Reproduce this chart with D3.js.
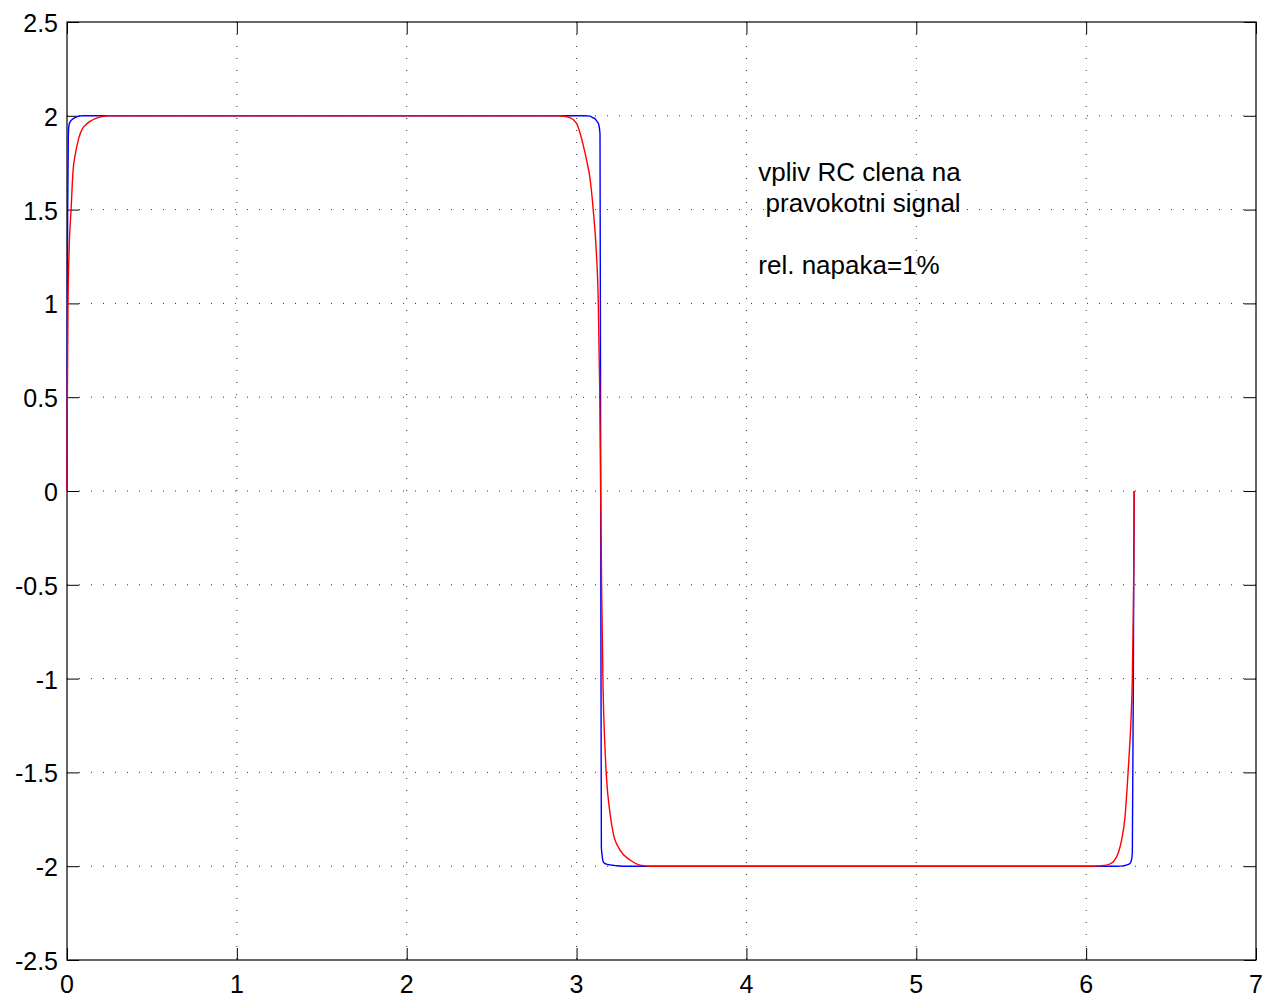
<!DOCTYPE html>
<html>
<head>
<meta charset="utf-8">
<script src="https://cdn.jsdelivr.net/npm/d3@7"></script>
<style>
  body { margin: 0; background: #fff; }
  svg { display: block; font-family: "Liberation Sans", Arial, Helvetica, sans-serif; }
</style>
</head>
<body>
<div id="chart-area"></div>
<script>
const MARGIN = { LEFT: 67, RIGHT: 14, TOP: 22, BOTTOM: 40 }
const WIDTH = 1270 - MARGIN.LEFT - MARGIN.RIGHT
const HEIGHT = 1000 - MARGIN.TOP - MARGIN.BOTTOM

// tick values
const xTicks = [0, 1, 2, 3, 4, 5, 6, 7]
const yTicks = [-2.5, -2, -1.5, -1, -0.5, 0, 0.5, 1, 1.5, 2, 2.5]

// blue curve
const blueX = [0, 0.001, 0.002, 0.004, 0.008, 0.012, 0.02, 0.03, 0.05, 0.09,
  3.05, 3.079, 3.095, 3.108, 3.12, 3.128, 3.135, 3.138, 3.142, 3.146, 3.149, 3.153, 3.157, 3.165, 3.18, 3.197, 3.23, 3.273,
  6.18, 6.219, 6.24, 6.258, 6.266, 6.272, 6.278, 6.28, 6.283]
const blueY = [0, 0.5, 1.0, 1.5, 1.9, 1.95, 1.97, 1.98, 1.992, 2.0,
  2.0, 1.998, 1.99, 1.985, 1.97, 1.96, 1.93, 1.9, 0, -1.9, -1.93, -1.96, -1.976, -1.985, -1.99, -1.993, -1.997, -2.0,
  -2.0, -1.998, -1.993, -1.985, -1.97, -1.93, -1.0, -0.5, 0]

// red curve
const redX = [0, 0.002, 0.006, 0.013, 0.024, 0.035, 0.05, 0.069, 0.09, 0.108, 0.135, 0.167, 0.2, 0.245,
  2.9, 2.961, 3.0, 3.02, 3.039, 3.06, 3.079, 3.098, 3.116, 3.128, 3.136, 3.142, 3.148, 3.156, 3.167, 3.177, 3.197, 3.216, 3.256, 3.315, 3.373, 3.432,
  6.023, 6.08, 6.121, 6.16, 6.189, 6.209, 6.229, 6.243, 6.255, 6.265, 6.272, 6.277, 6.281, 6.283]
const redY = [0, 0.5, 1.0, 1.3, 1.5, 1.7, 1.8, 1.88, 1.93, 1.95, 1.97, 1.985, 1.994, 2.0,
  2.0, 1.99, 1.96, 1.91, 1.844, 1.76, 1.667, 1.5, 1.28, 1.0, 0.55, 0, -0.55, -1.05, -1.363, -1.54, -1.718, -1.825, -1.914, -1.967, -1.994, -2.0,
  -2.0, -1.998, -1.994, -1.976, -1.93, -1.86, -1.736, -1.558, -1.38, -1.2, -1.0, -0.7, -0.35, 0]

// annotation
const noteLines = ["vpliv RC clena na", " pravokotni signal", "", "rel. napaka=1%"]
const noteX = 4.07
const noteY = 1.65

const svg = d3.select("#chart-area").append("svg")
  .attr("width", 1270)
  .attr("height", 1000)

svg.append("rect").attr("width", 1270).attr("height", 1000).attr("fill", "#fff")

const g = svg.append("g")
  .attr("transform", `translate(${MARGIN.LEFT}, ${MARGIN.TOP})`)

const x = d3.scaleLinear().domain([0, 7]).range([0, WIDTH])
const y = d3.scaleLinear().domain([-2.5, 2.5]).range([HEIGHT, 0])

// dotted grid
g.append("g").selectAll("line")
  .data(xTicks.slice(1, -1))
  .join("line")
  .attr("x1", d => x(d)).attr("x2", d => x(d))
  .attr("y1", 0).attr("y2", HEIGHT)
  .attr("stroke", "#333").attr("stroke-width", 1)
  .attr("stroke-dasharray", "1,11")

g.append("g").selectAll("line")
  .data(yTicks.slice(1, -1))
  .join("line")
  .attr("x1", 0).attr("x2", WIDTH)
  .attr("y1", d => y(d)).attr("y2", d => y(d))
  .attr("stroke", "#333").attr("stroke-width", 1)
  .attr("stroke-dasharray", "1,11")

// axes with inward ticks on all sides
const TICK = 12
const fmt = d => String(d).replace("−", "-")

const xAxis = g.append("g").attr("transform", `translate(0, ${HEIGHT})`)
  .call(d3.axisTop(x).tickValues(xTicks).tickSize(TICK).tickFormat(""))
const xTop = g.append("g")
  .call(d3.axisBottom(x).tickValues(xTicks).tickSize(TICK).tickFormat(""))
const yAxis = g.append("g")
  .call(d3.axisRight(y).tickValues(yTicks).tickSize(TICK).tickFormat(""))
const yRight = g.append("g").attr("transform", `translate(${WIDTH}, 0)`)
  .call(d3.axisLeft(y).tickValues(yTicks).tickSize(TICK).tickFormat(""))

;[xAxis, xTop, yAxis, yRight].forEach(a => {
  a.select(".domain").remove()
  a.selectAll("line").attr("stroke", "#000")
})

g.append("rect")
  .attr("width", WIDTH).attr("height", HEIGHT)
  .attr("fill", "none").attr("stroke", "#000").attr("stroke-width", 1.2)

// tick labels
g.append("g").selectAll("text")
  .data(xTicks)
  .join("text")
  .attr("x", d => x(d))
  .attr("y", HEIGHT + 33)
  .attr("text-anchor", "middle")
  .attr("font-size", "25px")
  .text(fmt)

g.append("g").selectAll("text")
  .data(yTicks)
  .join("text")
  .attr("x", -9)
  .attr("y", d => y(d) + 10)
  .attr("text-anchor", "end")
  .attr("font-size", "25px")
  .text(fmt)

// curves
const line = d3.line()
  .x(d => x(d[0]))
  .y(d => y(d[1]))
  .curve(d3.curveMonotoneX)

g.append("path")
  .datum(d3.zip(blueX, blueY))
  .attr("fill", "none").attr("stroke", "#0000ff").attr("stroke-width", 1.4)
  .attr("d", line)

g.append("path")
  .datum(d3.zip(redX, redY))
  .attr("fill", "none").attr("stroke", "#ff0000").attr("stroke-width", 1.4)
  .attr("d", line)

// annotation text
g.append("g").selectAll("text")
  .data(noteLines)
  .join("text")
  .attr("x", x(noteX))
  .attr("y", (d, i) => y(noteY) + i * 31)
  .attr("font-size", "26px")
  .attr("xml:space", "preserve")
  .style("white-space", "pre")
  .text(d => d)
</script>
</body>
</html>
